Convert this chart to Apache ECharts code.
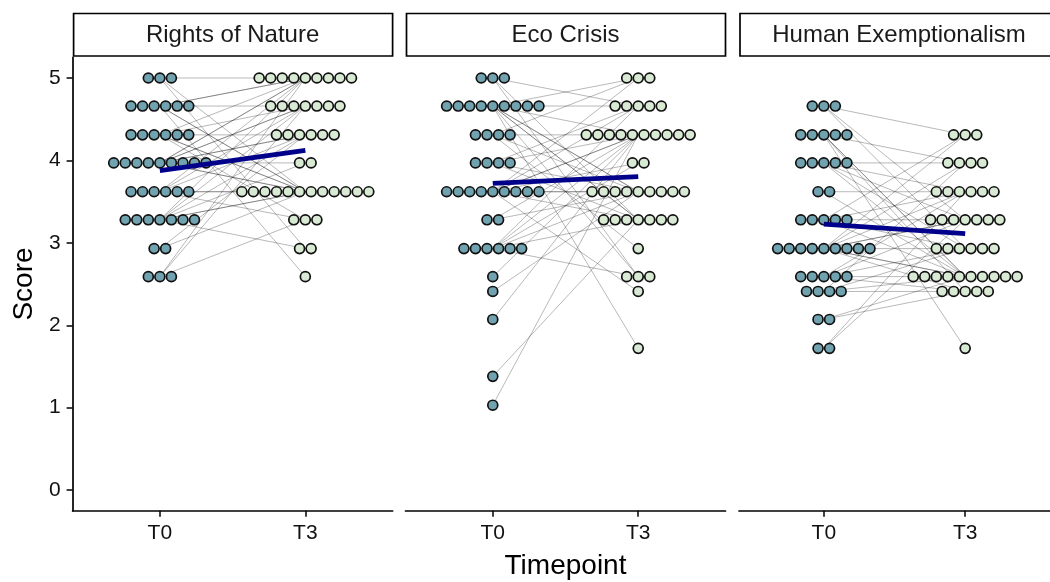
<!DOCTYPE html>
<html>
<head>
<meta charset="utf-8">
<script src="https://cdn.jsdelivr.net/npm/echarts@6/dist/echarts.min.js"></script>
<style>
  html, body { margin: 0; padding: 0; background: #ffffff; }
  #chart { width: 1050px; height: 582px; }
</style>
</head>
<body>
<div id="chart"></div>
<script>
// Facet titles, timepoint labels and score ticks
const panels = ['Rights of Nature', 'Eco Crisis', 'Human Exemptionalism'];
const timepoints = ['T0', 'T3'];
const scoreTicks = [0, 1, 2, 3, 4, 5];

// Paired scores, one entry per participant (same index = same person)
const rightsT0 = [5.00, 5.00, 5.00, 4.66, 4.66, 4.66, 4.66, 4.66, 4.66,
  4.31, 4.31, 4.31, 4.31, 4.31, 4.31,
  3.97, 3.97, 3.97, 3.97, 3.97, 3.97, 3.97, 3.97, 3.97,
  3.62, 3.62, 3.62, 3.62, 3.62, 3.62,
  3.28, 3.28, 3.28, 3.28, 3.28, 3.28, 3.28,
  2.93, 2.93, 2.59, 2.59, 2.59];
const rightsT3 = [5.00, 3.62, 2.93, 5.00, 3.62, 3.62, 2.59, 4.66, 5.00,
  5.00, 4.66, 3.62, 4.31, 3.28, 3.62,
  5.00, 4.66, 3.62, 4.31, 3.97, 5.00, 3.62, 4.66, 4.31,
  5.00, 4.31, 3.62, 4.66, 3.28, 3.62,
  5.00, 4.66, 3.62, 4.31, 3.97, 3.62, 2.93,
  4.31, 3.62, 5.00, 4.66, 3.28];

const ecoT0 = [5.00, 5.00, 5.00,
  4.66, 4.66, 4.66, 4.66, 4.66, 4.66, 4.66, 4.66, 4.66,
  4.31, 4.31, 4.31, 4.31,
  3.97, 3.97, 3.97, 3.97,
  3.62, 3.62, 3.62, 3.62, 3.62, 3.62, 3.62, 3.62, 3.62,
  3.28, 3.28,
  2.93, 2.93, 2.93, 2.93, 2.93, 2.93,
  2.59, 2.41, 2.07, 1.38, 1.03];
const ecoT3 = [4.66, 3.28, 2.59,
  5.00, 4.31, 3.62, 3.28, 2.59, 4.66, 3.62, 3.28, 1.72,
  4.31, 3.62, 2.93, 5.00,
  4.31, 3.28, 3.62, 4.66,
  4.31, 3.62, 4.31, 3.28, 5.00, 3.97, 4.66, 3.62, 2.41,
  4.31, 3.62,
  4.31, 3.97, 3.28, 2.59, 4.66, 3.62,
  4.31, 3.62, 4.31, 3.28, 4.31];

const humanT0 = [4.66, 4.66, 4.66,
  4.31, 4.31, 4.31, 4.31, 4.31,
  3.97, 3.97, 3.97, 3.97, 3.97,
  3.62, 3.62,
  3.28, 3.28, 3.28, 3.28, 3.28,
  2.93, 2.93, 2.93, 2.93, 2.93, 2.93, 2.93, 2.93, 2.93,
  2.59, 2.59, 2.59, 2.59, 2.59,
  2.41, 2.41, 2.41, 2.41,
  2.07, 2.07, 1.72, 1.72];
const humanT3 = [4.31, 2.93, 3.28,
  2.59, 2.59, 3.97, 2.41, 1.72,
  3.97, 2.59, 3.28, 2.93, 3.62,
  3.62, 2.59,
  3.28, 4.31, 2.93, 2.59, 3.62,
  3.28, 2.93, 2.59, 3.62, 4.31, 2.41, 3.28, 2.59, 3.97,
  3.62, 3.28, 2.59, 2.41, 2.93,
  3.97, 2.41, 2.59, 2.93,
  2.59, 2.41, 3.62, 3.28];

const panelScores = [
  [rightsT0, rightsT3],
  [ecoT0, ecoT3],
  [humanT0, humanT3]
];

// Layout of the three facets
const panelLeft = [72.6, 405.5, 739];
const panelWidth = 320;
const panelTop = 57.4;
const panelHeight = 453.3;
const dotBin = 0.14;           // dot diameter in score units
const fillT0 = '#70a3af';
const fillT3 = '#d8ead3';
const fontFamily = '"Liberation Sans", Arial, Helvetica, sans-serif';

// Count how many people share each score at one timepoint
function stackCounts(values, xPos) {
  const counts = new Map();
  values.forEach(v => {
    const k = v.toFixed(2);
    counts.set(k, (counts.get(k) || 0) + 1);
  });
  return Array.from(counts.entries()).map(([k, n]) => [xPos, parseFloat(k), n]);
}

function mean(arr) {
  return arr.reduce((a, b) => a + b, 0) / arr.length;
}

const grids = [], xAxes = [], yAxes = [], series = [], graphics = [];

panels.forEach((title, p) => {
  const [t0, t3] = panelScores[p];
  grids.push({
    left: panelLeft[p], top: panelTop, width: panelWidth, height: panelHeight,
    containLabel: false
  });
  xAxes.push({
    gridIndex: p, type: 'value', min: 0.4, max: 2.6,
    axisLine: { show: true, onZero: false, lineStyle: { color: '#000', width: 1.7 } },
    axisTick: { show: true, customValues: [1, 2], length: 6, lineStyle: { color: '#000', width: 1.5 } },
    axisLabel: {
      show: true, customValues: [1, 2], margin: 12,
      formatter: v => timepoints[Math.round(v) - 1],
      fontSize: 21, color: '#111', fontFamily
    },
    splitLine: { show: false }
  });
  yAxes.push({
    gridIndex: p, type: 'value', min: -0.25, max: 5.25,
    show: p === 0,
    axisLine: { show: true, onZero: false, lineStyle: { color: '#000', width: 1.7 } },
    axisTick: { show: true, customValues: scoreTicks, length: 6, lineStyle: { color: '#000', width: 1.5 } },
    axisLabel: {
      show: true, customValues: scoreTicks, margin: 12,
      fontSize: 21, color: '#111', fontFamily
    },
    splitLine: { show: false }
  });

  // Participant trajectories from T0 to T3
  series.push({
    type: 'custom', xAxisIndex: p, yAxisIndex: p, z: 1, silent: true,
    data: t0.map((v, i) => [v, t3[i]]),
    renderItem(params, api) {
      const a = api.coord([1, api.value(0)]);
      const b = api.coord([2, api.value(1)]);
      return {
        type: 'line',
        shape: { x1: a[0], y1: a[1], x2: b[0], y2: b[1] },
        style: { stroke: 'rgba(0,0,0,0.28)', lineWidth: 1 }
      };
    }
  });

  // Centred dot stacks, one dot per participant
  [t0, t3].forEach((vals, t) => {
    const fill = t === 0 ? fillT0 : fillT3;
    series.push({
      type: 'custom', xAxisIndex: p, yAxisIndex: p, z: 2, silent: true,
      clip: false,
      data: stackCounts(vals, t + 1),
      renderItem(params, api) {
        const c = api.coord([api.value(0), api.value(1)]);
        const n = api.value(2);
        const d = api.size([0, dotBin])[1];
        const children = [];
        for (let i = 0; i < n; i++) {
          children.push({
            type: 'circle',
            shape: { cx: c[0] + (i - (n - 1) / 2) * d, cy: c[1], r: d / 2 - 0.8 },
            style: { fill, stroke: '#111', lineWidth: 1.7 }
          });
        }
        return { type: 'group', children };
      }
    });
  });

  // Mean change line
  series.push({
    type: 'line', xAxisIndex: p, yAxisIndex: p, z: 3, silent: true,
    symbol: 'none',
    data: [[1, mean(t0)], [2, mean(t3)]],
    lineStyle: { color: '#00008b', width: 4.8 }
  });

  // Facet strip
  graphics.push({
    type: 'group',
    children: [
      {
        type: 'rect',
        shape: { x: panelLeft[p] + 1, y: 13.5, width: panelWidth - 1, height: 42.5 },
        style: { fill: '#fff', stroke: '#000', lineWidth: 1.7 }
      },
      {
        type: 'text',
        x: panelLeft[p] + panelWidth / 2, y: 35,
        style: {
          text: title, fontSize: 24, fill: '#1a1a1a', fontFamily,
          align: 'center', verticalAlign: 'middle'
        }
      }
    ]
  });
});

// Axis titles
graphics.push({
  type: 'text',
  x: panelLeft[1] + panelWidth / 2, y: 566,
  style: {
    text: 'Timepoint', fontSize: 28, fill: '#000', fontFamily,
    align: 'center', verticalAlign: 'middle'
  }
});
graphics.push({
  type: 'text',
  x: 24, y: panelTop + panelHeight / 2,
  rotation: Math.PI / 2,
  style: {
    text: 'Score', fontSize: 28, fill: '#000', fontFamily,
    align: 'center', verticalAlign: 'middle'
  }
});

const chart = echarts.init(document.getElementById('chart'), null, { renderer: 'canvas' });
chart.setOption({
  backgroundColor: '#ffffff',
  animation: false,
  grid: grids,
  xAxis: xAxes,
  yAxis: yAxes,
  series,
  graphic: graphics
});
</script>
</body>
</html>
